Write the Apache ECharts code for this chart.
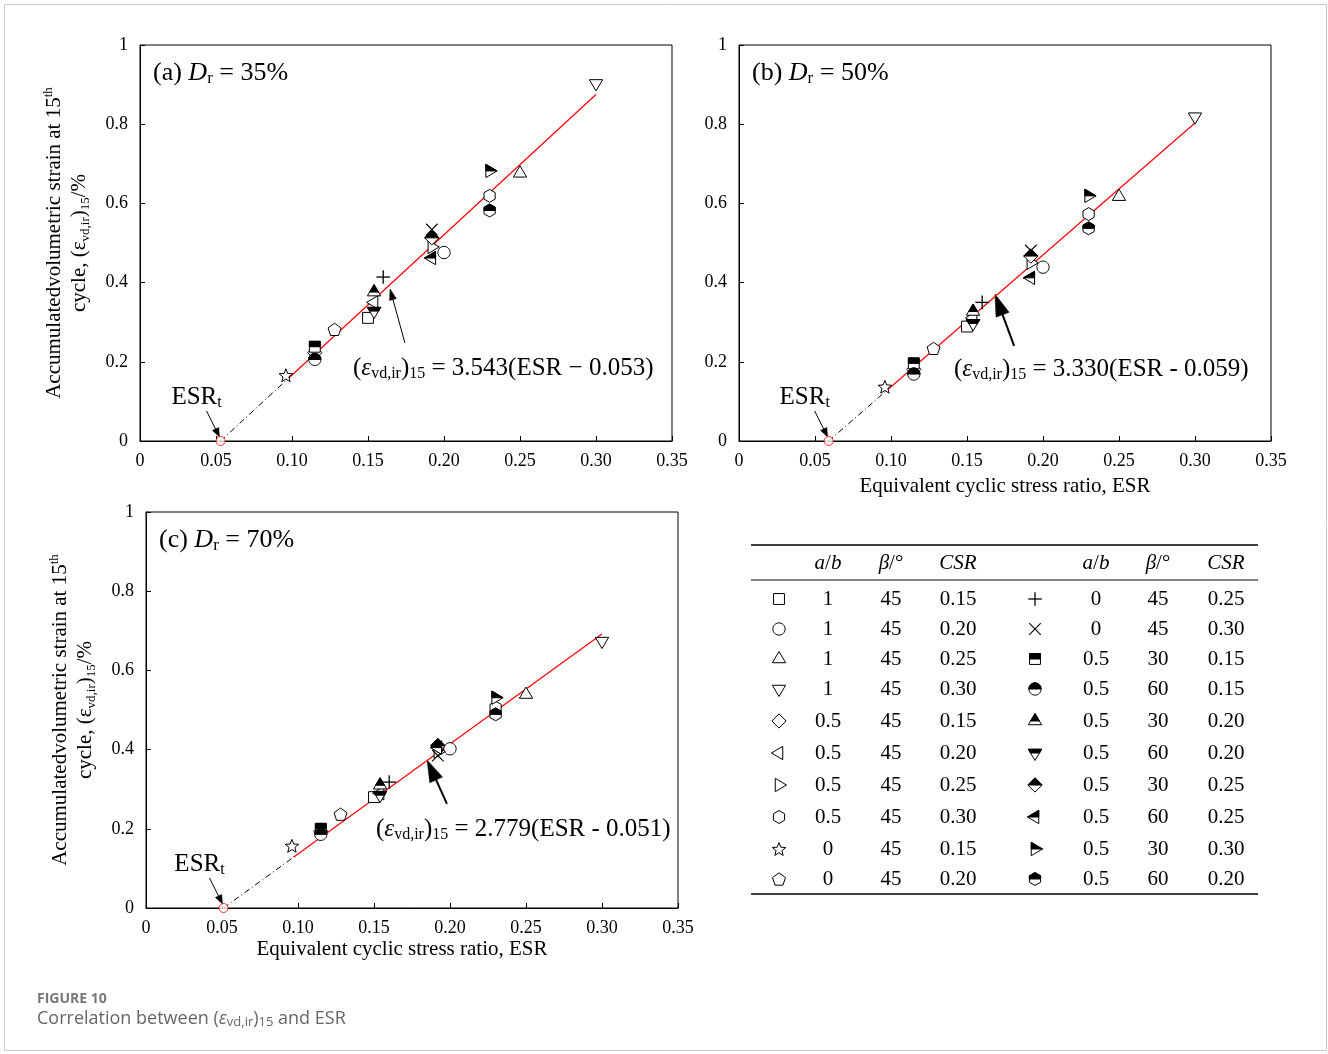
<!DOCTYPE html>
<html><head><meta charset="utf-8">
<script src="https://cdn.jsdelivr.net/npm/echarts@6/dist/echarts.min.js"></script>
<style>html,body{margin:0;padding:0;background:#fff}#c{width:1328px;height:1054px}</style>
</head><body><div id="c"></div>
<script>
// ---------------- DATA ----------------
const symbols = ['square','circle','triUp','triDown','diamond','triLeft','triRight','hexagon','star','pentagon',
  'plus','cross','half:square','half:circle','half:triUp','half:triDown','half:diamond','half:triLeft','half:triRight','half:hexagon'];
const legendAB   = ['1','1','1','1','0.5','0.5','0.5','0.5','0','0','0','0','0.5','0.5','0.5','0.5','0.5','0.5','0.5','0.5'];
const legendBeta = ['45','45','45','45','45','45','45','45','45','45','45','45','30','60','30','60','30','60','30','60'];
const legendCSR  = ['0.15','0.20','0.25','0.30','0.15','0.20','0.25','0.30','0.15','0.20','0.25','0.30','0.15','0.15','0.20','0.20','0.25','0.25','0.30','0.20'];
const esr     = [0.150,0.200,0.250,0.300,0.115,0.154,0.192,0.230,0.096,0.128,0.160,0.192,0.115,0.115,0.154,0.154,0.192,0.192,0.230,0.230];
const strainA = [0.311,0.476,0.676,0.903,0.223,0.350,0.490,0.619,0.166,0.282,0.414,0.534,0.238,0.206,0.376,0.328,0.513,0.462,0.682,0.582];
const strainB = [0.289,0.439,0.617,0.819,0.181,0.311,0.450,0.573,0.137,0.234,0.350,0.481,0.196,0.169,0.327,0.297,0.467,0.412,0.619,0.537];
const strainC = [0.280,0.402,0.539,0.674,0.194,0.290,0.395,0.506,0.157,0.237,0.318,0.385,0.200,0.186,0.310,0.285,0.410,0.405,0.531,0.489];
const esrT = [0.053, 0.059, 0.051];
const fitA = [[0.097,0.156],[0.300,0.875]];
const fitB = [[0.097,0.127],[0.300,0.803]];
const fitC = [[0.097,0.128],[0.300,0.692]];
const xTicks = [0,0.05,0.10,0.15,0.20,0.25,0.30,0.35];
const yTicks = [0,0.2,0.4,0.6,0.8,1];
const panelTitles = [['(a) ','35%'],['(b) ','50%'],['(c) ','70%']];
const eqTexts = ['3.543(ESR \u2212 0.053)','3.330(ESR - 0.059)','2.779(ESR - 0.051)'];
const eqArrowTail = [[0.1743,0.2475],[0.181,0.240],[0.198,0.263]];
const eqArrowHead = [[0.1645,0.384],[0.1684,0.371],[0.1849,0.374]];

// ---------------- STYLE / LAYOUT ----------------
const SERIF = "'Liberation Serif','Times New Roman',serif";
const SANS = "'Open Sans','Noto Sans',sans-serif";
const MARK_R = 6.8;
const gridsPx = [
  {left:140, top:45, width:532, height:396},
  {left:739, top:45, width:532, height:396},
  {left:146, top:512, width:532, height:396}
];

const SHAPES = {
  square: [[-0.8,-0.8],[0.8,-0.8],[0.8,0.8],[-0.8,0.8]],
  circle: (function(){const a=[];for(let k=0;k<40;k++){const t=k*Math.PI*2/40;a.push([0.9*Math.cos(t),0.9*Math.sin(t)]);}return a;})(),
  triUp: [[0,-1.1],[0.98,0.55],[-0.98,0.55]],
  triDown: [[0,1.1],[0.98,-0.55],[-0.98,-0.55]],
  triLeft: [[-1.1,0],[0.55,-0.98],[0.55,0.98]],
  triRight: [[1.1,0],[-0.55,-0.98],[-0.55,0.98]],
  diamond: [[0,-1.05],[1.05,0],[0,1.05],[-1.05,0]],
  hexagon: (function(){const a=[];for(let k=0;k<6;k++){const t=-Math.PI/2+k*Math.PI/3;a.push([0.95*Math.cos(t),0.95*Math.sin(t)]);}return a;})(),
  pentagon: (function(){const a=[];for(let k=0;k<5;k++){const t=-Math.PI/2+k*2*Math.PI/5;a.push([Math.cos(t),0.1+Math.sin(t)]);}return a;})(),
  star: (function(){const a=[];for(let k=0;k<10;k++){const t=-Math.PI/2+k*Math.PI/5;const rr=k%2?0.45:1.05;a.push([rr*Math.cos(t),0.1+rr*Math.sin(t)]);}return a;})()
};
function clipTop(poly){
  const out=[]; const n=poly.length;
  for(let i=0;i<n;i++){
    const cur=poly[i], prev=poly[(i-1+n)%n];
    const ci=cur[1]<=0, pi=prev[1]<=0;
    const inter=()=>{const t=prev[1]/(prev[1]-cur[1]);return [prev[0]+t*(cur[0]-prev[0]),0];};
    if(ci){ if(!pi) out.push(inter()); out.push(cur); }
    else if(pi){ out.push(inter()); }
  }
  return out;
}
function lineEl(x1,y1,x2,y2,w,c){return {type:'line',shape:{x1,y1,x2,y2},style:{stroke:c||'#000',lineWidth:w||1}};}
function buildSymbol(name,cx,cy,r){
  let half=false;
  if(name.indexOf('half:')===0){half=true;name=name.slice(5);}
  if(name==='plus') return [lineEl(cx-r,cy,cx+r,cy,1.3),lineEl(cx,cy-r,cx,cy+r,1.3)];
  if(name==='cross'){const d=r*0.85;return [lineEl(cx-d,cy-d,cx+d,cy+d,1.1),lineEl(cx-d,cy+d,cx+d,cy-d,1.1)];}
  const base=SHAPES[name];
  const tr=pts=>pts.map(p=>[cx+p[0]*r,cy+p[1]*r]);
  const out=[{type:'polygon',shape:{points:tr(base)},style:{fill:'#fff',stroke:'#000',lineWidth:1}}];
  if(half) out.push({type:'polygon',shape:{points:tr(clipTop(base))},style:{fill:'#000',stroke:'#000',lineWidth:1}});
  return out;
}
function arrow(x1,y1,x2,y2,headLen,headW,w){
  const dx=x2-x1, dy=y2-y1, L=Math.sqrt(dx*dx+dy*dy), ux=dx/L, uy=dy/L;
  const bx=x2-ux*headLen, by=y2-uy*headLen;
  return [lineEl(x1,y1,bx+ux*2,by+uy*2,w),
    {type:'polygon',shape:{points:[[x2,y2],[bx-uy*headW,by+ux*headW],[bx+uy*headW,by-ux*headW]]},style:{fill:'#000',stroke:'#000',lineWidth:0.5}}];
}
function rich(size,lh){
  const s=Math.round(size*0.64);
  return {
    n:{fontFamily:SERIF,fontSize:size,lineHeight:lh||size+2,fill:'#000'},
    i:{fontFamily:SERIF,fontSize:size,fontStyle:'italic',lineHeight:lh||size+2,fill:'#000'},
    s:{fontFamily:SERIF,fontSize:s,lineHeight:s,verticalAlign:'bottom',fill:'#000'},
    p:{fontFamily:SERIF,fontSize:s,lineHeight:s,verticalAlign:'top',fill:'#000'}
  };
}
function textEl(x,y,text,size,align,vAlign,extra){
  const el={type:'text',x,y,z:100,style:Object.assign({text,rich:rich(size),fontFamily:SERIF,fontSize:size,fill:'#000',
    align:align||'left',verticalAlign:vAlign||'middle',textAlign:align||'left',textVerticalAlign:vAlign||'middle'},extra||{})};
  return el;
}

// ---------------- OPTION ----------------
const strains=[strainA,strainB,strainC];
const fits=[fitA,fitB,fitC];
const grid=gridsPx.map(g=>Object.assign({show:true,borderColor:'#000',borderWidth:1,backgroundColor:'transparent'},g));
const xAxis=gridsPx.map((g,k)=>({type:'value',gridIndex:k,min:xTicks[0],max:xTicks[xTicks.length-1],interval:0.05,
  axisLine:{lineStyle:{color:'#000',width:1}},axisTick:{inside:true,length:5,lineStyle:{color:'#000'}},splitLine:{show:false},
  axisLabel:{fontFamily:SERIF,fontSize:18,color:'#000',margin:11,formatter:v=>v===0?'0':v.toFixed(2)}}));
const yAxis=gridsPx.map((g,k)=>({type:'value',gridIndex:k,min:yTicks[0],max:yTicks[yTicks.length-1],interval:0.2,
  axisLine:{lineStyle:{color:'#000',width:1}},axisTick:{inside:true,length:5,lineStyle:{color:'#000'}},splitLine:{show:false},
  axisLabel:{fontFamily:SERIF,fontSize:18,color:'#000',margin:12,formatter:v=>String(Math.round(v*10)/10)}}));
const series=[];
for(let k=0;k<3;k++){
  series.push({type:'line',xAxisIndex:k,yAxisIndex:k,symbol:'none',silent:true,z:2,
    data:[[esrT[k],0],fits[k][0]],lineStyle:{color:'#000',width:1,type:[6,3,1,3]}});
  series.push({type:'line',xAxisIndex:k,yAxisIndex:k,symbol:'none',silent:true,z:2,
    data:fits[k],lineStyle:{color:'#ff0000',width:1.2}});
  series.push({type:'custom',xAxisIndex:k,yAxisIndex:k,z:5,silent:true,
    data:esr.map((x,i)=>[x,strains[k][i],i]),
    encode:{x:0,y:1},
    renderItem:function(params,api){
      const p=api.coord([api.value(0),api.value(1)]);
      return {type:'group',children:buildSymbol(symbols[api.value(2)],p[0],p[1],MARK_R)};
    }});
  series.push({type:'scatter',xAxisIndex:k,yAxisIndex:k,z:6,silent:true,symbol:'circle',symbolSize:9,
    data:[[esrT[k],0]],itemStyle:{color:'#fff',borderColor:'#ff0000',borderWidth:1}});
}
const chart=echarts.init(document.getElementById('c'),null,{renderer:'canvas',width:1328,height:1054});
chart.setOption({animation:false,backgroundColor:'#fff',grid,xAxis,yAxis,series});

// ---------------- ANNOTATIONS ----------------
const g=[];
g.push({type:'rect',shape:{x:4.5,y:4.5,width:1322,height:1046},style:{fill:'none',stroke:'#c8c8c8',lineWidth:1},z:0});
for(let k=0;k<3;k++){
  const G=gridsPx[k];
  g.push(textEl(G.left+13,G.top+28,'{n|'+panelTitles[k][0]+'}{i|D}{s|r}{n| = '+panelTitles[k][1]+'}',26));
  const eqPos=[[353,368],[954,369],[376,829]][k];
  g.push(textEl(eqPos[0],eqPos[1],'{n|(}{i|\u03b5}{s|vd,ir}{n|)}{s|15}{n| = '+eqTexts[k]+'}',25));
  const t=chart.convertToPixel({gridIndex:k},eqArrowTail[k]);
  const h=chart.convertToPixel({gridIndex:k},eqArrowHead[k]);
  if(k===0) arrow(t[0],t[1],h[0],h[1],11,3.5,1).forEach(e=>g.push(e));
  else arrow(t[0],t[1],h[0],h[1],22,7,2).forEach(e=>g.push(e));
  const e=chart.convertToPixel({gridIndex:k},[esrT[k],0]);
  g.push(textEl(e[0]-24,e[1]-44,'{n|ESR}{s|t}',25,'center'));
  arrow(e[0]-14,e[1]-30,e[0]-1,e[1]-4,9,3.5,1).forEach(x=>g.push(x));
}
const ytxt='{n|Accumulatedvolumetric strain at 15}{p|th}\n{n|cycle, (\u03b5}{s|vd,ir}{n|)}{s|15}{n|/%}';
[[67,243],[73,710]].forEach(p=>{
  const el=textEl(p[0],p[1],ytxt,21,'center','middle');
  el.style.rich=rich(21,25);
  el.rotation=Math.PI/2;
  g.push(el);
});
g.push(textEl(1005,486,'{n|Equivalent cyclic stress ratio, ESR}',21,'center'));
g.push(textEl(402,949,'{n|Equivalent cyclic stress ratio, ESR}',21,'center'));

// table
const TX0=751, TX1=1258;
g.push(lineEl(TX0,545,TX1,545,1.5));
g.push(lineEl(TX0,580,TX1,580,1));
g.push(lineEl(TX0,894,TX1,894,1.5));
const colL=[779,828,891,958], colR=[1035,1096,1158,1226];
const rowY=[599,629,659,689,721,753,785,817,849,879];
[colL,colR].forEach(c=>{
  g.push(textEl(c[1],563,'{i|a}{n|/}{i|b}',21,'center'));
  g.push(textEl(c[2],563,'{i|\u03b2}{n|/\u00b0}',21,'center'));
  g.push(textEl(c[3],563,'{i|CSR}',21,'center'));
});
for(let i=0;i<20;i++){
  const c=i<10?colL:colR, y=rowY[i%10];
  buildSymbol(symbols[i],c[0],y,MARK_R).forEach(e=>{e.z=100;g.push(e);});
  g.push(textEl(c[1],y,'{n|'+legendAB[i]+'}',21,'center'));
  g.push(textEl(c[2],y,'{n|'+legendBeta[i]+'}',21,'center'));
  g.push(textEl(c[3],y,'{n|'+legendCSR[i]+'}',21,'center'));
}
// caption
g.push({type:'text',x:37,y:999,z:100,style:{text:'FIGURE 10',fontFamily:SANS,fontSize:14,fontWeight:'bold',fill:'#777',
  align:'left',verticalAlign:'middle',textAlign:'left',textVerticalAlign:'middle'}});
g.push({type:'text',x:37,y:1019,z:100,style:{text:'{a|Correlation between (}{b|\u03b5}{c|vd,ir}{a|)}{c|15}{a| and ESR}',
  fontFamily:SANS,fontSize:18,fill:'#666',align:'left',verticalAlign:'middle',textAlign:'left',textVerticalAlign:'middle',
  rich:{a:{fontFamily:SANS,fontSize:18,lineHeight:20,fill:'#666'},b:{fontFamily:SANS,fontSize:18,fontStyle:'italic',lineHeight:20,fill:'#666'},
        c:{fontFamily:SANS,fontSize:13,lineHeight:13,verticalAlign:'bottom',fill:'#666'}}}});
chart.setOption({graphic:{elements:g}});
</script></body></html>
